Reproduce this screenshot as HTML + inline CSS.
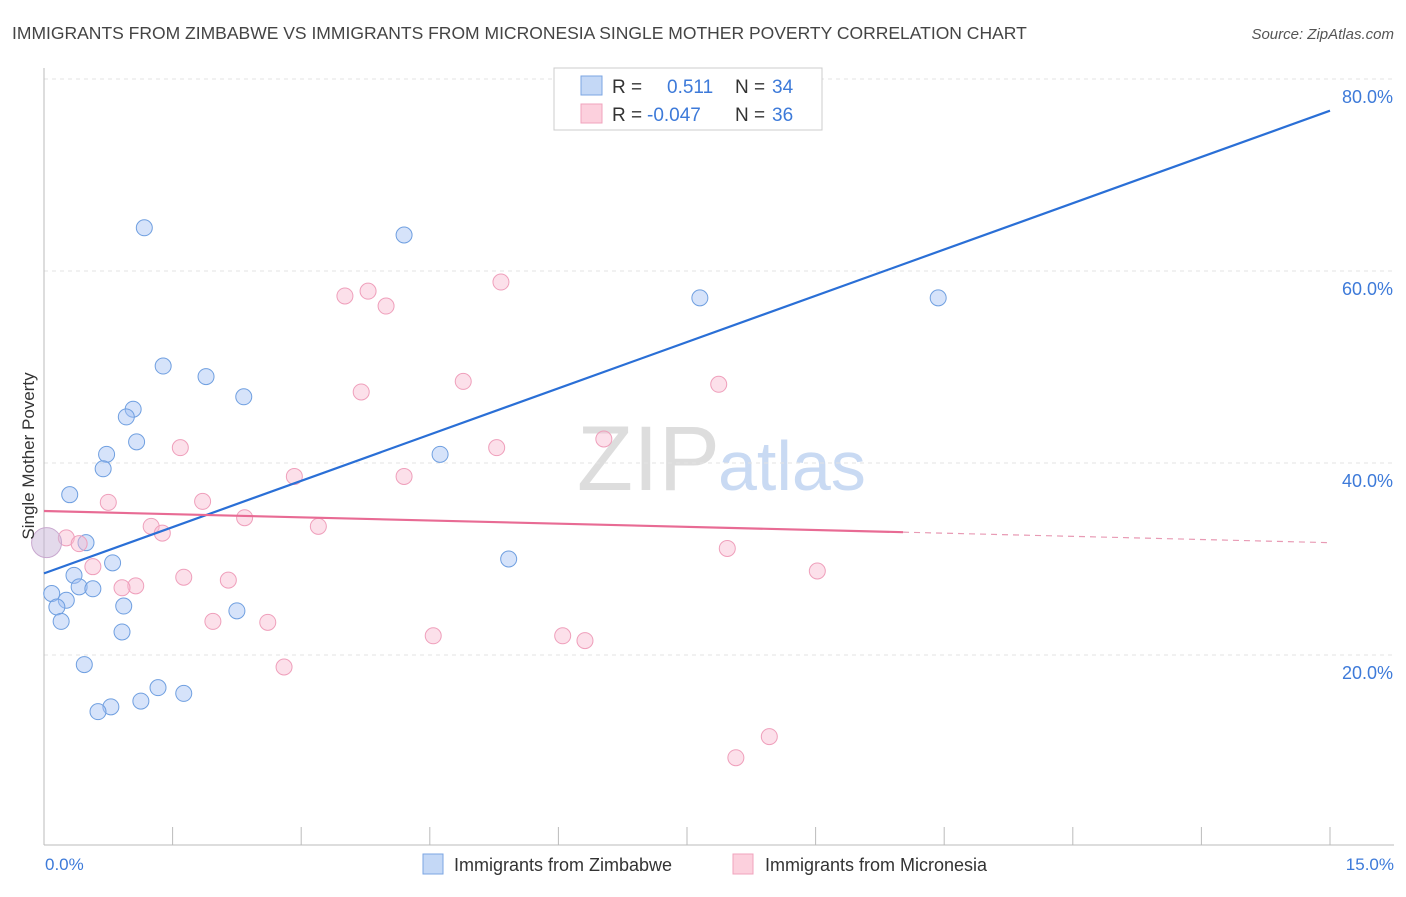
<!DOCTYPE html>
<html><head><meta charset="utf-8"><style>
body{margin:0;background:#fff;font-family:"Liberation Sans",sans-serif;}
svg text{font-family:"Liberation Sans",sans-serif;}
</style></head><body>
<svg id="chart" width="1406" height="892" viewBox="0 0 1406 892" xmlns="http://www.w3.org/2000/svg">
<text x="12" y="39" font-size="17.5" fill="#444">IMMIGRANTS FROM ZIMBABWE VS IMMIGRANTS FROM MICRONESIA SINGLE MOTHER POVERTY CORRELATION CHART</text>
<text x="1394" y="39" font-size="15" fill="#555" font-style="italic" text-anchor="end">Source: ZipAtlas.com</text>
<text x="720" y="490" font-size="92" fill="#ddd" font-family="Liberation Serif" text-anchor="end">ZIP</text>
<text x="718" y="490" font-size="70" fill="#c9daf3">atlas</text>
<g id="grid"></g>
<g id="axes"></g>
<g id="pts"></g>
<g id="lines"></g>
<text transform="translate(34,456) rotate(-90)" font-size="17" fill="#333" text-anchor="middle">Single Mother Poverty</text>
<text x="45" y="870" font-size="17" fill="#3d7ad9">0.0%</text>
<text x="1394" y="870" font-size="17" fill="#3d7ad9" text-anchor="end">15.0%</text>
<g>
<rect x="554" y="68" width="268" height="62" fill="#fff" stroke="#ccc"/>
<rect x="581" y="76" width="21" height="19" fill="#c4d8f6" stroke="#7ba6e3"/>
<rect x="581" y="104" width="21" height="19" fill="#fcd0dd" stroke="#f0a3bd"/>
<text x="612" y="93" font-size="19" fill="#333">R = </text><text x="667" y="93" font-size="19" fill="#3d7ad9">0.511</text>
<text x="735" y="93" font-size="19" fill="#333">N = </text><text x="772" y="93" font-size="19" fill="#3d7ad9">34</text>
<text x="612" y="121" font-size="19" fill="#333">R = </text><text x="647" y="121" font-size="19" fill="#3d7ad9">-0.047</text>
<text x="735" y="121" font-size="19" fill="#333">N = </text><text x="772" y="121" font-size="19" fill="#3d7ad9">36</text>
</g>
<g>
<rect x="423" y="854" width="20" height="20" fill="#c4d8f6" stroke="#7ba6e3"/>
<text x="454" y="871" font-size="18" fill="#333">Immigrants from Zimbabwe</text>
<rect x="733" y="854" width="20" height="20" fill="#fcd0dd" stroke="#f0a3bd"/>
<text x="765" y="871" font-size="18" fill="#333">Immigrants from Micronesia</text>
</g>
</svg>
<script>
const yTicks=[20,40,60,80];
const yTickLabels=["20.0%","40.0%","60.0%","80.0%"];
const xTicks=[0,1.5,3,4.5,6,7.5,9,10.5,12,13.5,15];
const blueX=[1.17,4.20,7.65,10.43,1.39,1.89,2.33,1.04,0.96,1.08,0.73,0.69,4.62,0.30,0.49,0.80,5.42,0.35,0.41,0.57,0.09,0.26,0.15,0.93,2.25,0.20,0.91,0.47,1.33,1.63,1.13,0.78,0.63];
const blueY=[64.5,63.75,57.2,57.2,50.1,49.0,46.9,45.6,44.8,42.2,40.9,39.4,40.9,36.7,31.7,29.6,30.0,28.3,27.1,26.9,26.4,25.7,25.0,25.1,24.6,23.5,22.4,19.0,16.6,16.0,15.2,14.6,14.1];
const pinkX=[5.33,3.78,3.51,3.99,4.89,7.87,3.70,1.59,5.28,6.53,2.92,4.20,0.75,1.85,1.25,3.20,2.34,1.38,0.26,0.41,7.97,0.57,9.02,1.63,2.15,1.07,0.91,1.97,2.61,4.54,6.05,6.31,2.80,8.46,8.07];
const pinkY=[58.85,57.9,57.4,56.35,48.5,48.2,47.4,41.6,41.6,42.5,38.6,38.6,35.9,36.0,33.4,33.4,34.3,32.7,32.2,31.6,31.1,29.2,28.75,28.1,27.8,27.2,27.0,23.5,23.4,22.0,22.0,21.5,18.75,11.5,9.3];
const bigPoint=[0.03,31.7];
const blueTrend=[28.5,76.7];
const pinkTrend=[35.0,31.7];
const pinkSolidEnd=10.02;
const X=v=>44+v/15*1286, Y=v=>847-v*9.6;
const NS="http://www.w3.org/2000/svg";
function mk(t,a,p){const e=document.createElementNS(NS,t);for(const k in a)e.setAttribute(k,a[k]);p.appendChild(e);return e;}
const grid=document.getElementById('grid'),axes=document.getElementById('axes'),pts=document.getElementById('pts'),lines=document.getElementById('lines');
yTicks.forEach((t,i)=>{
 const l=mk('line',{x1:44,x2:1394,y1:Y(t),y2:Y(t),stroke:'#e3e3e3','stroke-dasharray':'4,4'},grid);
 
 
 const tx=mk('text',{x:1393,y:Y(t)+24,'font-size':18,fill:'#3d7ad9','text-anchor':'end'},grid);
 tx.textContent=yTickLabels[i];
 
 
});
const ya=mk('line',{x1:44,x2:44,y1:68,y2:845,stroke:'#bbb'},axes);


const xa=mk('line',{x1:44,x2:1394,y1:845,y2:845,stroke:'#bbb'},axes);


xTicks.forEach(t=>{
 const l=mk('line',{x1:X(t),x2:X(t),y1:827,y2:845,stroke:'#bbb'},axes);
 
 
});
blueX.forEach((x,i)=>{
 const c=mk('circle',{cx:X(x),cy:Y(blueY[i]),r:8,fill:'rgba(164,194,244,0.45)',stroke:'#6f9fe0','stroke-width':1},pts);
 
 
});
pinkX.forEach((x,i)=>{
 const c=mk('circle',{cx:X(x),cy:Y(pinkY[i]),r:8,fill:'rgba(248,187,208,0.45)',stroke:'#ef9fbb','stroke-width':1},pts);
 
 
});
const bp=mk('circle',{cx:X(bigPoint[0]),cy:Y(bigPoint[1]),r:15,fill:'rgba(200,180,215,0.5)',stroke:'#c9a8cf'},pts);


const bl=mk('line',{x1:X(0),y1:Y(blueTrend[0]),x2:X(15),y2:Y(blueTrend[1]),stroke:'#2a6fd6','stroke-width':2.2},lines);


const pAt=x=>pinkTrend[0]+(pinkTrend[1]-pinkTrend[0])*x/15;
const pl=mk('line',{x1:X(0),y1:Y(pAt(0)),x2:X(pinkSolidEnd),y2:Y(pAt(pinkSolidEnd)),stroke:'#e86b94','stroke-width':2.2},lines);


const pd=mk('line',{x1:X(pinkSolidEnd),y1:Y(pAt(pinkSolidEnd)),x2:X(15),y2:Y(pAt(15)),stroke:'#e89ab4','stroke-width':1.2,'stroke-dasharray':'6,5'},lines);


</script>
</body></html>
